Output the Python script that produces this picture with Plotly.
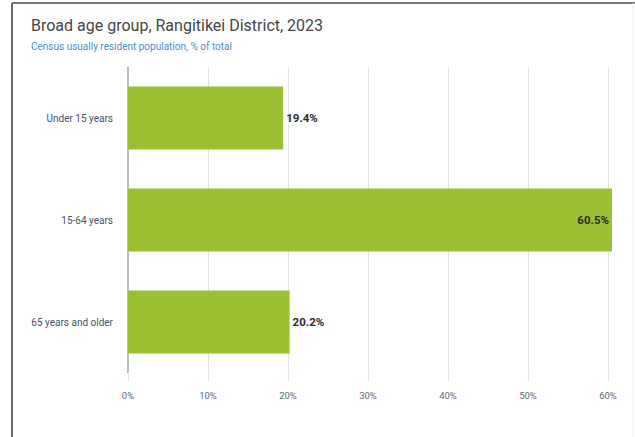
import plotly.graph_objects as go

categories = ["Under 15 years", "15-64 years", "65 years and older"]
values = [19.4, 60.5, 20.2]
labels = ["19.4%", "60.5%", "20.2%"]
text_pos = ["outside", "inside", "outside"]
tick_vals = [0, 10, 20, 30, 40, 50, 60]
tick_text = ["0%", "10%", "20%", "30%", "40%", "50%", "60%"]

W, H = 635, 437
L, R, T, B = 128, 15, 67, 64
pw = W - L - R
ph = H - T - B

def px(x):
    return (x - L) / pw

def py(y):
    return (H - B - y) / ph

fig = go.Figure(go.Bar(
    y=categories, x=values, orientation="h",
    marker=dict(color="#9cc033", line=dict(width=0)),
    text=labels, textposition=text_pos, insidetextanchor="end",
    textfont=dict(family="Roboto", size=11.5, color="#2b2b2b", weight="bold"),
    cliponaxis=False, hoverinfo="skip",
))

fig.update_layout(
    width=W, height=H,
    margin=dict(l=L, r=R, t=T, b=B),
    paper_bgcolor="white", plot_bgcolor="white",
    bargap=0.38, showlegend=False,
    font=dict(family="Roboto"),
    xaxis=dict(range=[0, 61.5], tickvals=tick_vals, ticktext=tick_text,
               showgrid=True, gridcolor="#e3e3e6", gridwidth=1,
               zeroline=True, zerolinecolor="#b9bdc8", zerolinewidth=1.5,
               ticks="outside", ticklen=8, tickcolor="#e3e3e6",
               ticklabelstandoff=6,
               tickfont=dict(size=9.5, color="#5b6b80"), fixedrange=True),
    yaxis=dict(autorange="reversed", showgrid=False, zeroline=False,
               ticks="", ticklabelstandoff=14,
               tickfont=dict(size=10, color="#44536a"), fixedrange=True),
    annotations=[
        dict(text="Broad age group, Rangitikei District, 2023", xref="paper", yref="paper",
             x=px(29), y=py(25), xanchor="left", yanchor="middle", showarrow=False,
             font=dict(family="Roboto", size=16, color="#454545")),
        dict(text="Census usually resident population, % of total", xref="paper", yref="paper",
             x=px(29), y=py(46), xanchor="left", yanchor="middle", showarrow=False,
             font=dict(family="Roboto", size=10, color="#4a8fd0")),
    ],
    shapes=[
        dict(type="line", xref="paper", yref="paper", x0=px(12), x1=px(640), y0=py(3), y1=py(3),
             line=dict(color="#4a4a4a", width=1.5)),
        dict(type="line", xref="paper", yref="paper", x0=px(12), x1=px(12), y0=py(3), y1=py(445),
             line=dict(color="#6a6a6a", width=2)),
        dict(type="line", xref="paper", yref="paper", x0=px(633), x1=px(633), y0=py(3), y1=py(445),
             line=dict(color="#ececec", width=1)),
    ],
)

fig.write_html("out.html", config={"displayModeBar": False},
               post_script="document.body.style.margin='0';document.body.style.overflow='hidden';")
